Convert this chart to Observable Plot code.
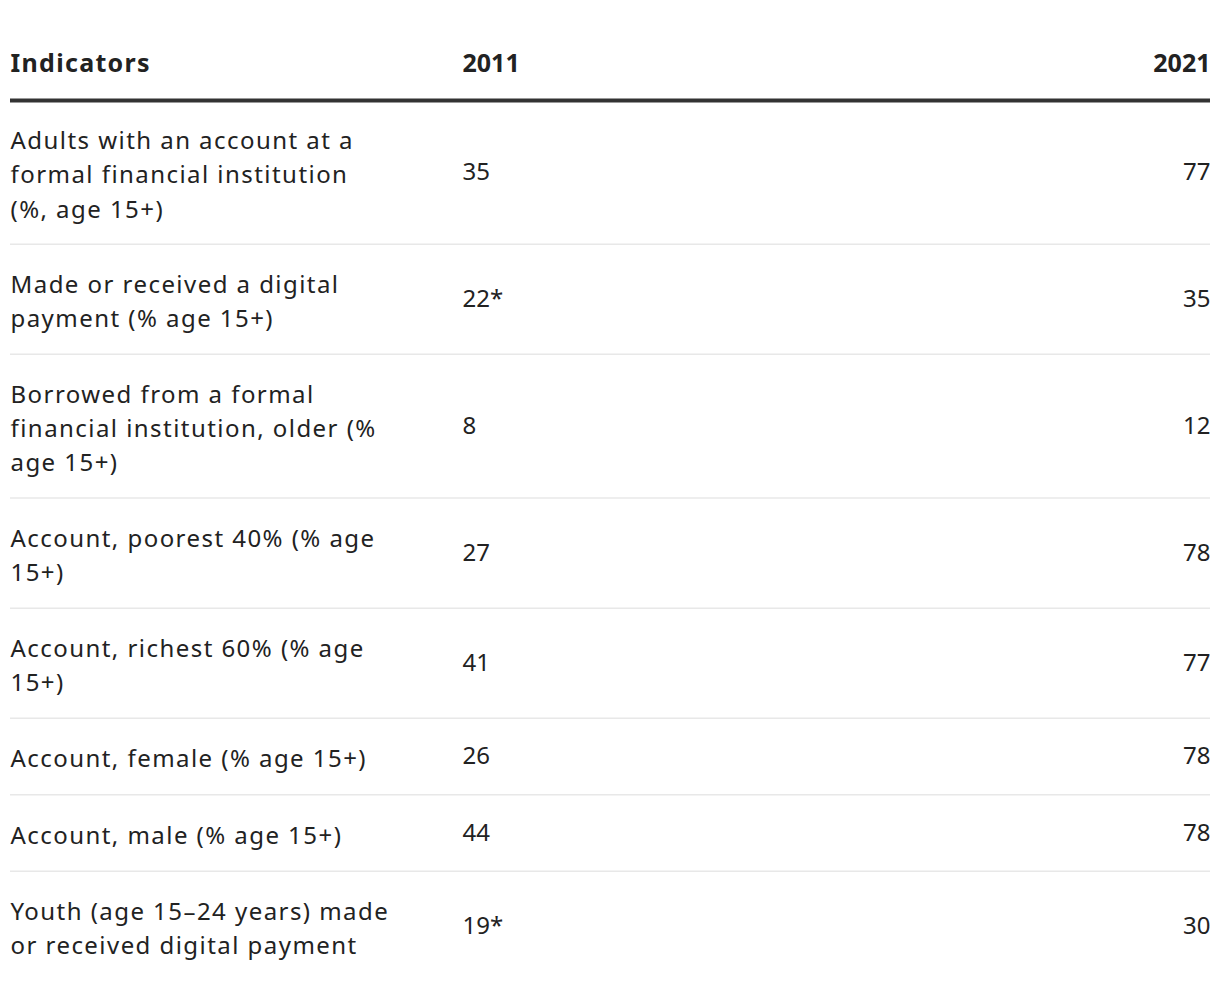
<!DOCTYPE html>
<html>
<head>
<meta charset="utf-8">
<script src="https://cdn.jsdelivr.net/npm/d3@7"></script>
<script src="https://cdn.jsdelivr.net/npm/@observablehq/plot@0.6"></script>
<style>
  html, body { margin: 0; padding: 0; background: #fff; }
  #chart svg { display: block; }
</style>
</head>
<body>
<div id="chart"></div>
<script>
// ---- data ----
const columns = ["Indicators", "2011", "2021"];
const indicators = [
  "Adults with an account at a\nformal financial institution\n(%, age 15+)",
  "Made or received a digital\npayment (% age 15+)",
  "Borrowed from a formal\nfinancial institution, older (%\nage 15+)",
  "Account, poorest 40% (% age\n15+)",
  "Account, richest 60% (% age\n15+)",
  "Account, female (% age 15+)",
  "Account, male (% age 15+)",
  "Youth (age 15\u201324 years) made\nor received digital payment"
];
const values2011 = [35, 22, 8, 27, 41, 26, 44, 19];
const flagged2011 = [false, true, false, false, false, false, false, true];
const values2021 = [77, 35, 12, 78, 77, 78, 78, 30];

// ---- layout (in text-line units) ----
const W = 1220, H = 990;
const LINE = 33.6;          // px per text line
const PAD = 1.277;          // row padding, in line units
const TOP = 100;            // px of header rule
let cursor = 0;
const rows = indicators.map((label, i) => {
  const n = label.split("\n").length;
  const start = cursor;
  cursor += n + PAD;
  return {
    label,
    v2011: values2011[i] + (flagged2011[i] ? "*" : ""),
    v2021: String(values2021[i]),
    start, end: cursor, mid: (start + cursor) / 2
  };
});
const separators = rows.slice(0, -1).map(r => r.end);
const headerY = -1.08;

const xLeft = 10, x2011 = 462, xRight = 1210;
const font = "'Noto Sans', sans-serif";
const ink = "#222";

const chart = Plot.plot({
  width: W, height: H,
  margin: 0,
  x: {domain: [0, W], range: [0, W], axis: null},
  y: {domain: [-TOP / LINE, (H - TOP) / LINE], range: [0, H], axis: null},
  style: {fontFamily: font, color: ink, background: "#fff"},
  marks: [
    // header
    Plot.text([columns[0]], {x: () => xLeft, y: () => headerY, text: d => d, textAnchor: "start",
      fontSize: 25, fontWeight: 700, fill: ink}),
    Plot.text([columns[1]], {x: () => x2011, y: () => headerY, text: d => d, textAnchor: "start",
      fontSize: 25, fontWeight: 700, fill: ink}),
    Plot.text([columns[2]], {x: () => xRight, y: () => headerY, text: d => d, textAnchor: "end",
      fontSize: 25, fontWeight: 700, fill: ink}),
    // header rule
    Plot.ruleY([0], {x1: xLeft, x2: xRight, stroke: "#333", strokeWidth: 4}),
    // separators
    Plot.ruleY(separators, {x1: xLeft, x2: xRight, stroke: "#e8e8e8", strokeWidth: 1.5}),
    // cells
    Plot.text(rows, {x: () => xLeft, y: "mid", text: "label", textAnchor: "start", lineAnchor: "middle",
      lineHeight: 34.3 / 24, fontSize: 24, fill: ink}),
    Plot.text(rows, {x: () => x2011, y: "mid", text: "v2011", textAnchor: "start", lineAnchor: "middle",
      fontSize: 24, fill: ink}),
    Plot.text(rows, {x: () => xRight, y: "mid", text: "v2021", textAnchor: "end", lineAnchor: "middle",
      fontSize: 24, fill: ink})
  ]
});
// letter spacing for the header "Indicators" and the indicator labels
const textGroups = chart.querySelectorAll("g[aria-label='text']");
if (textGroups[0]) textGroups[0].setAttribute("letter-spacing", "1.3");
if (textGroups[3]) textGroups[3].setAttribute("letter-spacing", "1.45");
document.getElementById("chart").appendChild(chart);
</script>
</body>
</html>
